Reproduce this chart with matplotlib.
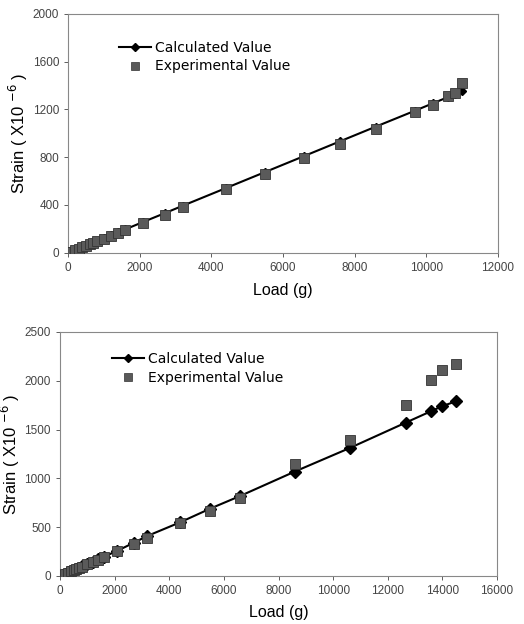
import matplotlib
matplotlib.use("Agg")
import matplotlib.pyplot as plt
from matplotlib.lines import Line2D

plt.rcParams['font.family'] = ['Liberation Sans', 'DejaVu Sans']

# Top chart data
load1 = [0, 100, 200, 300, 400, 500, 600, 700, 800, 1000, 1200, 1400, 1600,
         2100, 2700, 3200, 4400, 5500, 6600, 7600, 8600, 9700, 10200, 10600, 10800, 11000]
calc1 = [0, 12, 25, 37, 49, 61, 74, 86, 98, 123, 147, 172, 196,
         258, 331, 393, 540, 675, 810, 933, 1056, 1190, 1252, 1301, 1326, 1350]
exp1 = [5, 10, 22, 35, 46, 58, 70, 82, 94, 118, 140, 165, 190,
        250, 318, 385, 530, 660, 795, 910, 1035, 1180, 1240, 1310, 1340, 1420]

# Bottom chart data
load2 = [0, 100, 200, 300, 400, 500, 600, 700, 800, 1000, 1200, 1400, 1600,
         2100, 2700, 3200, 4400, 5500, 6600, 8600, 10600, 12650, 13600, 14000, 14500]
calc2 = [0, 12, 25, 37, 49, 61, 74, 86, 98, 123, 147, 172, 196,
         258, 340, 410, 550, 690, 820, 1070, 1310, 1570, 1690, 1740, 1790]
exp2 = [5, 10, 22, 35, 46, 58, 70, 82, 94, 118, 140, 165, 190,
        255, 330, 390, 540, 665, 800, 1150, 1390, 1750, 2010, 2110, 2170]

xticks1 = [0, 2000, 4000, 6000, 8000, 10000, 12000]
yticks1 = [0, 400, 800, 1200, 1600, 2000]
xticks2 = [0, 2000, 4000, 6000, 8000, 10000, 12000, 14000, 16000]
yticks2 = [0, 500, 1000, 1500, 2000, 2500]

fig = plt.figure(figsize=(5.24, 6.24), dpi=100)
ax1 = fig.add_axes([0.130, 0.595, 0.820, 0.383])
ax2 = fig.add_axes([0.1145, 0.077, 0.834, 0.391])

sq_color = '#5a5a5a'

def style(ax, load, calc, exp, xt, yt, xmax, ymax, dms, anchor, xpad):
    ax.plot(load, calc, '-', color='black', lw=1.5, marker='D', ms=dms,
            mfc='black', mec='black', zorder=2)
    ax.plot(load, exp, 's', color=sq_color, ms=7.5, mec='#333333', mew=0.6,
            zorder=3, linestyle='none')
    ax.set_xlim(0, xmax)
    ax.set_ylim(0, ymax)
    ax.set_xticks(xt)
    ax.set_yticks(yt)
    ax.tick_params(labelsize=8.5, colors='#444444', length=3, width=0.6,
                   direction='out')
    for s in ax.spines.values():
        s.set_color('#888888')
        s.set_linewidth(0.8)
    ax.set_xlabel('Load (g)', fontsize=11.5, labelpad=xpad)
    ax.set_ylabel('Strain ( X10 $^{-6}$ )', fontsize=12, labelpad=2)
    handles = [
        Line2D([], [], color='black', lw=1.5, marker='D', ms=4.5, mfc='black'),
        Line2D([], [], color=sq_color, marker='s', ms=5.5, linestyle='none', mec='#333333', mew=0.5),
    ]
    ax.legend(handles, ['Calculated Value', 'Experimental Value'],
              loc='upper left', bbox_to_anchor=anchor, frameon=False,
              prop={'family': 'DejaVu Sans', 'size': 10},
              handlelength=2.3, handletextpad=0.3, labelspacing=0.35)

style(ax1, load1, calc1, exp1, xticks1, yticks1, 12000, 2000, 4.5, (0.09, 0.94), 7)
style(ax2, load2, calc2, exp2, xticks2, yticks2, 16000, 2500, 6, (0.09, 0.97), 6)

fig.savefig('out.png', dpi=100)
